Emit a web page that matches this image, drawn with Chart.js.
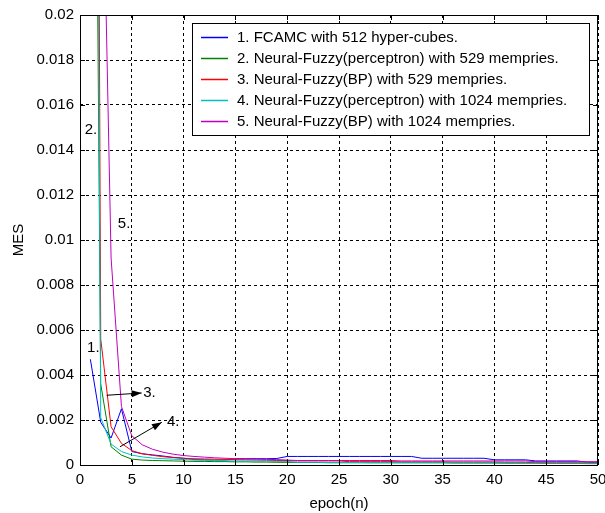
<!DOCTYPE html>
<html>
<head>
<meta charset="utf-8">
<script src="https://cdn.jsdelivr.net/npm/chart.js@4/dist/chart.umd.min.js"></script>
<style>
  html, body { margin: 0; padding: 0; background: #fff; }
  canvas { display: block; }
</style>
</head>
<body>
<canvas id="mes" width="605" height="513"></canvas>
<script>
'use strict';

//===== data =====//
var epochs = [1, 2, 3, 4, 5, 6, 7, 8, 9, 10,
  11, 12, 13, 14, 15, 16, 17, 18, 19, 20,
  21, 22, 23, 24, 25, 26, 27, 28, 29, 30,
  31, 32, 33, 34, 35, 36, 37, 38, 39, 40,
  41, 42, 43, 44, 45, 46, 47, 48, 49, 50];

var fcamc512 = [0.0047, 0.0019, 0.0012, 0.0025, 0.0006, 0.0005, 0.00045, 0.0004, 0.00034, 0.0003,
  0.00024, 0.00023, 0.00022, 0.00022, 0.00028, 0.00028, 0.00028, 0.00028, 0.00029, 0.00038,
  0.00038, 0.00038, 0.00038, 0.00038, 0.00038, 0.00038, 0.00038, 0.00038, 0.00038, 0.00038,
  0.00038, 0.00038, 0.0003, 0.0003, 0.0003, 0.0003, 0.0003, 0.0003, 0.0003, 0.00023,
  0.00023, 0.00023, 0.00023, 0.00018, 0.00018, 0.00018, 0.00018, 0.00018, 0.00012, 0.0001];

var percep529 = [0.061, 0.0036, 0.00081, 0.00044, 0.00026, 0.00022, 0.0002, 0.00019, 0.00018, 0.00017,
  0.00016, 0.00016, 0.00015, 0.00015, 0.00014, 0.00014, 0.00013, 0.00013, 0.00012, 0.00012,
  0.00011, 0.00011, 0.00011, 0.0001, 0.0001, 0.0001, 0.0001, 0.0001, 0.0001, 0.0001,
  0.0001, 0.0001, 0.0001, 0.0001, 0.0001, 0.00009, 0.00009, 0.00009, 0.00009, 0.00009,
  0.00008, 0.00008, 0.00008, 0.00008, 0.00007, 0.00007, 0.00007, 0.00007, 0.00006, 0.00006];

var bp529 = [0.11, 0.0056, 0.0017, 0.00096, 0.00064, 0.0005, 0.00043, 0.00037, 0.00033, 0.0003,
  0.00028, 0.00027, 0.00026, 0.00025, 0.00024, 0.00023, 0.00022, 0.00021, 0.0002, 0.0002,
  0.00018, 0.00018, 0.00018, 0.00018, 0.00018, 0.00015, 0.00015, 0.00015, 0.00015, 0.00015,
  0.00014, 0.00014, 0.00014, 0.00014, 0.00014, 0.00013, 0.00013, 0.00013, 0.00013, 0.00013,
  0.00012, 0.00012, 0.00012, 0.0001, 0.0001, 0.0001, 0.0001, 0.0001, 0.0001, 0.0001];

var percep1024 = [0.085, 0.0021, 0.00093, 0.0006, 0.00044, 0.00036, 0.00031, 0.00028, 0.00026, 0.00024,
  0.00022, 0.00021, 0.0002, 0.00019, 0.00018, 0.00018, 0.00017, 0.00017, 0.00016, 0.00016,
  0.00012, 0.00012, 0.00012, 0.00011, 0.00011, 0.00011, 0.00011, 0.0001, 0.0001, 0.0001,
  0.0001, 0.0001, 0.0001, 0.0001, 0.0001, 0.00009, 0.00009, 0.00009, 0.00009, 0.00009,
  0.00009, 0.00009, 0.00008, 0.00008, 0.00008, 0.00008, 0.00008, 0.00008, 0.00008, 0.00008];

var bp1024 = [0.06, 0.032, 0.0092, 0.0026, 0.0013, 0.0009, 0.0007, 0.00057, 0.00048, 0.00042,
  0.00038, 0.00035, 0.00032, 0.0003, 0.00028, 0.00027, 0.00026, 0.00025, 0.00024, 0.00022,
  0.0002, 0.0002, 0.0002, 0.0002, 0.0002, 0.0002, 0.0002, 0.0002, 0.0002, 0.0002,
  0.00018, 0.00018, 0.00018, 0.00018, 0.00018, 0.00018, 0.00018, 0.00018, 0.00018, 0.00018,
  0.00018, 0.00018, 0.00018, 0.00015, 0.00015, 0.00015, 0.00015, 0.00015, 0.00015, 0.00015];

var seriesNames = [
  '1. FCAMC with 512 hyper-cubes.',
  '2. Neural-Fuzzy(perceptron) with 529 mempries.',
  '3. Neural-Fuzzy(BP) with 529 mempries.',
  '4. Neural-Fuzzy(perceptron) with 1024 mempries.',
  '5. Neural-Fuzzy(BP) with 1024 mempries.'
];
var seriesColors = ['#0000ff', '#008000', '#ff0000', '#00bfbf', '#bf00bf'];

var xTicks = [0, 5, 10, 15, 20, 25, 30, 35, 40, 45, 50];
var yTicks = [0, 0.002, 0.004, 0.006, 0.008, 0.01, 0.012, 0.014, 0.016, 0.018, 0.02];
var yTickLabels = ['0', '0.002', '0.004', '0.006', '0.008', '0.01', '0.012', '0.014', '0.016', '0.018', '0.02'];

// curve labels "1." .. "5." (data coords)
var curveNotes = [
  { text: '1.', x: 0.68, y: 0.0052 },
  { text: '2.', x: 0.45, y: 0.0149 },
  { text: '5.', x: 3.65, y: 0.0107 },
  { text: '3.', x: 6.1, y: 0.0032 },
  { text: '4.', x: 8.4, y: 0.0019 }
];
// arrows [x0, y0, x1, y1]
var curveArrows = [
  [2.57, 0.0031, 5.95, 0.0032],
  [3.86, 0.00081, 7.9, 0.0019]
];

var FONT = '"Liberation Sans", Arial, sans-serif';

function toPoints(vals){
  return vals.map(function(v, i){ return { x: epochs[i], y: v }; });
}

var allSeries = [fcamc512, percep529, bp529, percep1024, bp1024];
var datasets = allSeries.map(function(vals, i){
  return {
    label: seriesNames[i],
    data: toPoints(vals),
    borderColor: seriesColors[i],
    backgroundColor: seriesColors[i],
    borderWidth: 1,
    pointRadius: 0,
    tension: 0,
    order: allSeries.length - i
  };
});

//===== frame, inner ticks, notes and the boxed legend =====//
var matlabBits = {
  id: 'matlabBits',
  afterDraw: function(chart){
    var ctx = chart.ctx;
    var a = chart.chartArea;
    var xs = chart.scales.x, ys = chart.scales.y;
    ctx.save();
    ctx.strokeStyle = '#000';
    ctx.lineWidth = 1;
    ctx.setLineDash([]);

    // inner ticks
    ctx.beginPath();
    xTicks.forEach(function(t){
      var px = Math.round(xs.getPixelForValue(t)) + 0.5;
      ctx.moveTo(px, a.bottom); ctx.lineTo(px, a.bottom - 5);
      ctx.moveTo(px, a.top); ctx.lineTo(px, a.top + 5);
    });
    yTicks.forEach(function(t){
      var py = Math.round(ys.getPixelForValue(t)) + 0.5;
      ctx.moveTo(a.left, py); ctx.lineTo(a.left + 5, py);
      ctx.moveTo(a.right, py); ctx.lineTo(a.right - 5, py);
    });
    ctx.stroke();
    ctx.strokeRect(Math.round(a.left) + 0.5, Math.round(a.top) + 0.5,
      Math.round(a.right - a.left) - 1, Math.round(a.bottom - a.top));

    // curve notes
    ctx.fillStyle = '#000';
    ctx.font = '15px ' + FONT;
    ctx.textAlign = 'left';
    ctx.textBaseline = 'middle';
    curveNotes.forEach(function(n){
      ctx.fillText(n.text, xs.getPixelForValue(n.x), ys.getPixelForValue(n.y));
    });
    curveArrows.forEach(function(ar){
      var x0 = xs.getPixelForValue(ar[0]), y0 = ys.getPixelForValue(ar[1]);
      var x1 = xs.getPixelForValue(ar[2]), y1 = ys.getPixelForValue(ar[3]);
      var ang = Math.atan2(y1 - y0, x1 - x0);
      ctx.beginPath();
      ctx.moveTo(x0, y0); ctx.lineTo(x1, y1);
      ctx.stroke();
      ctx.beginPath();
      ctx.moveTo(x1, y1);
      ctx.lineTo(x1 - 10 * Math.cos(ang) + 3.5 * Math.sin(ang), y1 - 10 * Math.sin(ang) - 3.5 * Math.cos(ang));
      ctx.lineTo(x1 - 10 * Math.cos(ang) - 3.5 * Math.sin(ang), y1 - 10 * Math.sin(ang) + 3.5 * Math.cos(ang));
      ctx.closePath();
      ctx.fill();
    });

    // legend box
    var lx = 192, ly = 23, lw = 397, lh = 112, step = 20.9;
    ctx.fillStyle = '#fff';
    ctx.fillRect(lx, ly, lw, lh);
    ctx.strokeStyle = '#000';
    ctx.strokeRect(lx + 0.5, ly + 0.5, lw, lh);
    chart.data.datasets.forEach(function(ds, i){
      var cy = Math.round(ly + 14 + i * step) + 0.5;
      ctx.strokeStyle = ds.borderColor;
      ctx.lineWidth = 1.5;
      ctx.beginPath();
      ctx.moveTo(lx + 9, cy); ctx.lineTo(lx + 36, cy);
      ctx.stroke();
      ctx.fillStyle = '#000';
      ctx.fillText(ds.label, lx + 45, cy);
    });
    ctx.restore();
  }
};

var ctx = document.getElementById('mes').getContext('2d');
var chart = new Chart(ctx, {
  type: 'line',
  data: { datasets: datasets },
  options: {
    responsive: false,
    animation: false,
    devicePixelRatio: 1,
    layout: { padding: { top: 15, right: 7, left: 0, bottom: 0 } },
    plugins: {
      legend: { display: false },
      tooltip: { enabled: false }
    },
    scales: {
      x: {
        type: 'linear',
        min: 0,
        max: 50,
        afterBuildTicks: function(scale){
          scale.ticks = xTicks.map(function(v){ return { value: v }; });
        },
        afterFit: function(scale){
          scale.height = 48;
          scale.paddingLeft = 0;
          scale.paddingRight = 0;
        },
        grid: { color: '#000', lineWidth: 1, drawTicks: false },
        border: { display: false, dash: [3, 3] },
        ticks: {
          color: '#000',
          padding: 6,
          maxRotation: 0,
          font: { family: FONT, size: 15 }
        },
        title: {
          display: true,
          text: 'epoch(n)',
          color: '#000',
          padding: { top: 1, bottom: 0 },
          font: { family: FONT, size: 15 }
        }
      },
      y: {
        min: 0,
        max: 0.02,
        afterBuildTicks: function(scale){
          scale.ticks = yTicks.map(function(v){ return { value: v }; });
        },
        afterFit: function(scale){
          scale.width = 80;
          scale.paddingTop = 0;
          scale.paddingBottom = 0;
        },
        grid: { color: '#000', lineWidth: 1, drawTicks: false },
        border: { display: false, dash: [3, 3] },
        ticks: {
          color: '#000',
          padding: 6,
          font: { family: FONT, size: 15 },
          callback: function(value, index){ return yTickLabels[index]; }
        },
        title: {
          display: true,
          text: 'MES',
          color: '#000',
          padding: { top: 10, bottom: 0 },
          font: { family: FONT, size: 15 }
        }
      }
    }
  },
  plugins: [matlabBits]
});
</script>
</body>
</html>
